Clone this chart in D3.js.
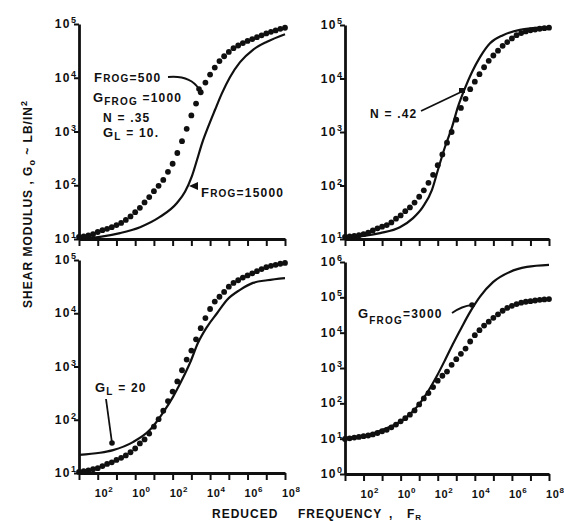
<!DOCTYPE html>
<html>
<head>
<meta charset="utf-8">
<script src="https://cdn.jsdelivr.net/npm/d3@7.9.0/dist/d3.min.js"></script>
<style>
  body { margin: 0; background: #fff; }
  svg { font-family: "Liberation Sans", Arial, sans-serif; font-weight: bold; }
</style>
</head>
<body>
<svg id="chart" width="564" height="521"></svg>
<script>
// reduced frequency (log10) at which the dotted curve is plotted
const freqExp = [-3, -2.75, -2.5, -2.25, -2, -1.75, -1.5, -1.25, -1, -0.75, -0.5, -0.25,
  0, 0.25, 0.5, 0.75, 1, 1.25, 1.5, 1.75, 2, 2.25, 2.5, 2.75, 3, 3.25, 3.5, 3.75,
  4, 4.25, 4.5, 4.75, 5, 5.25, 5.5, 5.75, 6, 6.25, 6.5, 6.75, 7, 7.25, 7.5, 7.75, 8];

// log10 shear modulus, dotted (base case) in each panel
const tlDots = [1.04, 1.05, 1.065, 1.09, 1.13, 1.165, 1.19, 1.22, 1.26, 1.30, 1.355, 1.42,
  1.50, 1.58, 1.68, 1.78, 1.89, 1.99, 2.10, 2.25, 2.40, 2.60, 2.82, 3.05, 3.30, 3.52, 3.73, 3.91,
  4.06, 4.19, 4.31, 4.40, 4.48, 4.55, 4.60, 4.645, 4.685, 4.72, 4.755, 4.79, 4.825, 4.855, 4.88, 4.91, 4.93];
const trDots = [1.04, 1.05, 1.06, 1.07, 1.09, 1.12, 1.16, 1.20, 1.23, 1.26, 1.31, 1.38,
  1.44, 1.52, 1.59, 1.68, 1.79, 1.91, 2.05, 2.20, 2.38, 2.58, 2.80, 3.00, 3.23, 3.45, 3.62, 3.80,
  3.94, 4.08, 4.21, 4.33, 4.43, 4.52, 4.61, 4.68, 4.75, 4.81, 4.85, 4.88, 4.90, 4.915, 4.93, 4.94, 4.95];
const blDots = [1.02, 1.035, 1.05, 1.07, 1.09, 1.13, 1.17, 1.20, 1.245, 1.285, 1.33, 1.39,
  1.46, 1.555, 1.63, 1.74, 1.87, 2.01, 2.17, 2.35, 2.53, 2.72, 2.93, 3.13, 3.30, 3.51, 3.72, 3.91,
  4.08, 4.22, 4.31, 4.40, 4.50, 4.57, 4.62, 4.67, 4.71, 4.75, 4.79, 4.83, 4.865, 4.89, 4.91, 4.93, 4.945];
const brDots = [0.99, 1.01, 1.03, 1.05, 1.07, 1.09, 1.12, 1.16, 1.21, 1.25, 1.32, 1.40,
  1.49, 1.58, 1.68, 1.80, 1.97, 2.14, 2.29, 2.46, 2.64, 2.78, 2.90, 3.09, 3.25, 3.40, 3.55, 3.75,
  3.93, 4.07, 4.20, 4.31, 4.42, 4.52, 4.62, 4.70, 4.76, 4.81, 4.85, 4.875, 4.89, 4.91, 4.93, 4.94, 4.95];

// solid curves, [log10 freq, log10 modulus]
const tlLine = [[-3, 1.0], [-1.88, 1.04], [-0.81, 1.11], [0.26, 1.22], [1.32, 1.41], [2.23, 1.67],
  [2.66, 1.88], [3.03, 2.17], [3.3, 2.47], [3.57, 2.78], [3.89, 3.08], [4.26, 3.4], [4.63, 3.71],
  [5.06, 4.01], [5.6, 4.29], [6.29, 4.52], [7.04, 4.67], [8, 4.81]];
const trLine = [[-3, 1.02], [-1.11, 1.11], [-0.04, 1.22], [0.67, 1.39], [1.2, 1.6], [1.69, 1.92],
  [2.01, 2.29], [2.39, 2.72], [2.77, 3.09], [3.09, 3.47], [3.47, 3.82], [3.85, 4.12], [4.28, 4.4],
  [4.82, 4.66], [5.52, 4.81], [6.43, 4.91], [7.13, 4.94], [8, 4.96]];
const blLine = [[-3, 1.34], [-1.88, 1.38], [-1.18, 1.43], [-0.12, 1.58], [0.79, 1.81], [1.48, 2.13],
  [2.02, 2.43], [2.5, 2.75], [2.93, 3.07], [3.35, 3.44], [3.83, 3.74], [4.37, 4.0], [4.9, 4.25],
  [5.6, 4.44], [6.29, 4.57], [7.04, 4.62], [8, 4.66]];
const brLine = [[-3, 1.02], [-1.81, 1.1], [-0.74, 1.3], [0.13, 1.53], [0.88, 1.9], [1.42, 2.29],
  [1.96, 2.78], [2.39, 3.22], [2.82, 3.68], [3.31, 4.17], [3.74, 4.58], [4.28, 5.02], [4.98, 5.43],
  [5.89, 5.72], [6.81, 5.86], [8, 5.92]];

// axis ticks
const xTickExp = [-3, -2, -1, 0, 1, 2, 3, 4, 5, 6, 7, 8];
const xLabelExp = [-2, 0, 2, 4, 6, 8];
const xLabelText = ['2', '0', '2', '4', '6', '8'];   // as printed (minus lost in print)

const svg = d3.select('#chart');
const ink = '#101010';

const panels = [
  { xr: [79, 285], yr: [239, 24], yExp: [1, 5], dots: tlDots, line: tlLine, xLabels: false },
  { xr: [345, 549], yr: [239, 25], yExp: [1, 5], dots: trDots, line: trLine, xLabels: false },
  { xr: [79, 285], yr: [473, 260], yExp: [1, 5], dots: blDots, line: blLine, xLabels: true },
  { xr: [345, 549], yr: [474, 262], yExp: [0, 6], dots: brDots, line: brLine, xLabels: true }
];

function powLabel(sel, exp, size, spacing) {
  sel.append('tspan').text('10').attr('font-size', size).attr('letter-spacing', spacing);
  sel.append('tspan').text(exp).attr('font-size', size - 3).attr('dy', -5).attr('letter-spacing', 0);
}

panels.forEach(p => {
  const x = d3.scaleLog().domain([1e-3, 1e8]).range(p.xr);
  const y = d3.scaleLog().domain([10 ** p.yExp[0], 10 ** p.yExp[1]]).range(p.yr);
  const g = svg.append('g');

  // x axis
  const xa = g.append('g')
    .attr('transform', `translate(0,${p.yr[0]})`)
    .call(d3.axisBottom(x).tickValues(xTickExp.map(e => 10 ** e)).tickSize(7).tickSizeOuter(0).tickFormat(''));
  xa.select('.domain').attr('stroke', ink).attr('stroke-width', 2.8);
  xa.selectAll('.tick line').attr('stroke', ink).attr('stroke-width', 2);

  // y axis
  const yTicks = d3.range(p.yExp[0], p.yExp[1] + 1);
  const ya = g.append('g')
    .attr('transform', `translate(${p.xr[0]},0)`)
    .call(d3.axisLeft(y).tickValues(yTicks.map(e => 10 ** e)).tickSize(5).tickSizeOuter(0).tickFormat(''));
  ya.select('.domain').attr('stroke', ink).attr('stroke-width', 2.8);
  ya.selectAll('.tick line').attr('stroke', ink).attr('stroke-width', 2);

  yTicks.forEach(e => {
    const t = g.append('text')
      .attr('x', p.xr[0] - 3).attr('y', y(10 ** e) + 4)
      .attr('text-anchor', 'end').attr('fill', ink);
    powLabel(t, String(e), 12, 1.5);
  });

  if (p.xLabels) {
    xLabelExp.forEach((e, i) => {
      const t = g.append('text')
        .attr('x', x(10 ** e) - 3).attr('y', p.yr[0] + 24)
        .attr('fill', ink);
      powLabel(t, xLabelText[i], 11, 0.6);
    });
  }

  // solid curve
  const line = d3.line()
    .x(d => x(10 ** d[0]))
    .y(d => y(10 ** d[1]))
    .curve(d3.curveMonotoneX);
  g.append('path')
    .datum(p.line)
    .attr('d', line)
    .attr('fill', 'none')
    .attr('stroke', ink)
    .attr('stroke-width', 2.2);

  // dotted curve
  g.selectAll('circle.dot')
    .data(p.dots)
    .join('circle')
    .attr('class', 'dot')
    .attr('cx', (d, i) => x(10 ** freqExp[i]))
    .attr('cy', d => y(10 ** d))
    .attr('r', 2.9)
    .attr('fill', ink);
});

// annotations
function label(xp, yp, parts) {
  const t = svg.append('text').attr('x', xp).attr('y', yp).attr('fill', ink).attr('letter-spacing', 1.2);
  parts.forEach(([s, size, dy]) => {
    t.append('tspan').text(s).attr('font-size', size).attr('dy', dy || 0);
  });
  return t;
}
function leader(d) {
  svg.append('path').attr('d', d).attr('fill', 'none').attr('stroke', ink).attr('stroke-width', 1.8);
}
function marker(xp, yp) {
  svg.append('circle').attr('cx', xp).attr('cy', yp).attr('r', 2.8).attr('fill', ink);
}

// top left
label(94, 82, [['F', 13], ['ROG', 10], ['=500', 12]]);
leader('M168,77 Q190,75 199,89');
marker(199, 89);
label(93, 102, [['G', 13], ['FROG', 10, 3], [' =1000', 12, -3]]);
label(103, 122, [['N = .35', 12]]);
label(103, 137, [['G', 13], ['L', 10, 3], [' = 10.', 12, -3]]);
label(201, 197, [['F', 13], ['ROG', 10], ['=15000', 12]]);
svg.append('path').attr('d', 'M189,186 L198,182 L198,190 Z').attr('fill', ink);

// top right
label(370, 118, [['N = .42', 12]]);
leader('M421,111 L461,92');
svg.append('rect').attr('x', 459).attr('y', 88).attr('width', 6).attr('height', 5).attr('fill', ink);

// bottom left
label(95, 392, [['G', 13], ['L', 10, 3], [' = 20', 12, -3]]);
leader('M106,399 L112,443');
marker(112, 443);

// bottom right
label(358, 318, [['G', 13], ['FROG', 10, 6], ['=3000', 12, -6]]);
leader('M452,313 Q462,306 472,305');
marker(472, 305);

// axis titles
const yt = svg.append('text')
  .attr('transform', 'translate(32,204) rotate(-90)')
  .attr('text-anchor', 'middle').attr('fill', ink)
  .attr('font-size', 12).attr('letter-spacing', 1);
yt.append('tspan').text('SHEAR   MODULUS , G');
yt.append('tspan').text('o').attr('font-size', 9).attr('dy', 3);
yt.append('tspan').text(' ~ LB/IN').attr('dy', -3);
yt.append('tspan').text('2').attr('font-size', 9).attr('dy', -5);

const xt = svg.append('text')
  .attr('y', 518)
  .attr('fill', ink).attr('font-size', 12).attr('letter-spacing', 1);
xt.append('tspan').attr('x', 212).text('REDUCED');
xt.append('tspan').attr('x', 298).text('FREQUENCY');
xt.append('tspan').attr('x', 389).text(',');
xt.append('tspan').attr('x', 407).text('F');
xt.append('tspan').text('R').attr('font-size', 8).attr('dy', 2);
</script>
</body>
</html>
